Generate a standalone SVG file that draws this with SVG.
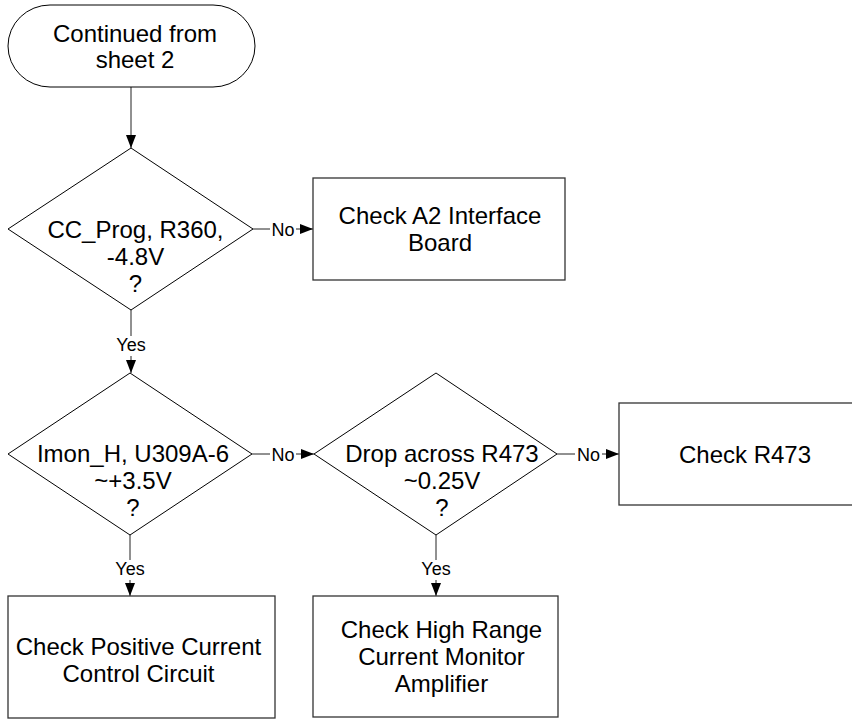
<svg xmlns="http://www.w3.org/2000/svg" width="852" height="719" viewBox="0 0 852 719">
<style>
.shape{fill:#fff;stroke:#000;stroke-width:1}
.box{fill:#fff;stroke:#333;stroke-width:1.3}
.t{font-family:"Liberation Sans",Arial,sans-serif;font-size:24px;fill:#000;text-anchor:middle}
.lbl{font-family:"Liberation Sans",Arial,sans-serif;font-size:18px;fill:#000;text-anchor:middle}
.c{stroke:#222;stroke-width:1;fill:none}
</style>
<defs>
<marker id="ah" markerUnits="userSpaceOnUse" markerWidth="13" markerHeight="10" refX="13" refY="5" orient="auto">
<path d="M0,0 L13,5 L0,10 z" fill="#000"/>
</marker>
</defs>
<rect width="852" height="719" fill="#fff"/>
<g id="connectors">
<line class="c" x1="131" y1="87" x2="131" y2="148" marker-end="url(#ah)"/>
<line class="c" x1="253" y1="229" x2="270" y2="229"/>
<text class="lbl" x="283" y="235.5">No</text>
<line class="c" x1="296" y1="229" x2="313" y2="229" marker-end="url(#ah)"/>
<line class="c" x1="131" y1="310" x2="131" y2="336"/>
<text class="lbl" x="131" y="351">Yes</text>
<line class="c" x1="131" y1="356" x2="131" y2="373" marker-end="url(#ah)"/>
<line class="c" x1="252" y1="454" x2="270" y2="454"/>
<text class="lbl" x="283" y="460.5">No</text>
<line class="c" x1="296" y1="454" x2="314" y2="454" marker-end="url(#ah)"/>
<line class="c" x1="557" y1="454" x2="575" y2="454"/>
<text class="lbl" x="588.5" y="460.5">No</text>
<line class="c" x1="602" y1="454" x2="619" y2="454" marker-end="url(#ah)"/>
<line class="c" x1="130" y1="535" x2="130" y2="560"/>
<text class="lbl" x="130" y="575">Yes</text>
<line class="c" x1="130" y1="580" x2="130" y2="596" marker-end="url(#ah)"/>
<line class="c" x1="436" y1="535" x2="436" y2="560"/>
<text class="lbl" x="436" y="575">Yes</text>
<line class="c" x1="436" y1="580" x2="436" y2="596" marker-end="url(#ah)"/>
</g>
<g id="start">
<rect class="shape" x="8" y="5" width="247" height="82" rx="42" ry="41"/>
<text class="t" x="135" y="42">Continued from</text>
<text class="t" x="135" y="68">sheet 2</text>
</g>
<g id="d1">
<polygon class="shape" points="131,148 253,229 131,310 8,229"/>
<text class="t" x="135.5" y="238">CC_Prog, R360,</text>
<text class="t" x="135.5" y="265">-4.8V</text>
<text class="t" x="135.5" y="292">?</text>
</g>
<g id="box-a2">
<rect class="box" x="313" y="178" width="252" height="102"/>
<text class="t" x="440" y="224">Check A2 Interface</text>
<text class="t" x="440" y="251">Board</text>
</g>
<g id="d2">
<polygon class="shape" points="130,373 252,454 130,535 8,454"/>
<text class="t" x="133" y="462">Imon_H, U309A-6</text>
<text class="t" x="133" y="489">~+3.5V</text>
<text class="t" x="133" y="516">?</text>
</g>
<g id="d3">
<polygon class="shape" points="436,373 557,454 436,535 314,454"/>
<text class="t" x="442" y="462">Drop across R473</text>
<text class="t" x="442" y="489">~0.25V</text>
<text class="t" x="442" y="516">?</text>
</g>
<g id="box-r473">
<rect class="box" x="619" y="403" width="252" height="102"/>
<text class="t" x="745" y="463">Check R473</text>
</g>
<g id="box-pos">
<rect class="box" x="8" y="596" width="267" height="122"/>
<text class="t" x="138.5" y="655">Check Positive Current</text>
<text class="t" x="138.5" y="682">Control Circuit</text>
</g>
<g id="box-hr">
<rect class="box" x="313" y="596" width="245" height="121"/>
<text class="t" x="441.5" y="638">Check High Range</text>
<text class="t" x="441.5" y="665">Current Monitor</text>
<text class="t" x="441.5" y="692">Amplifier</text>
</g>
</svg>
